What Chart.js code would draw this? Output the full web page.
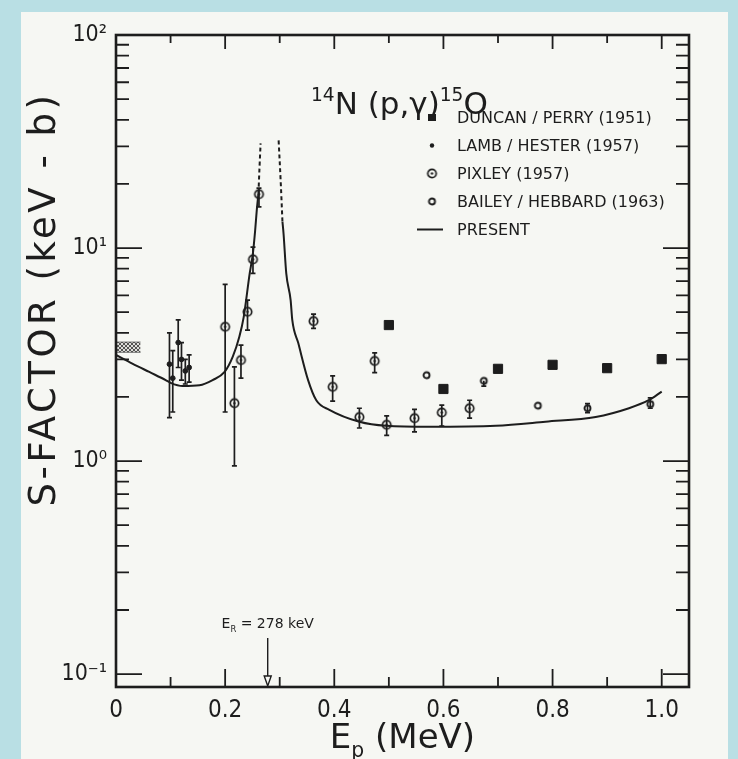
<!DOCTYPE html>
<html>
<head>
<meta charset="utf-8">
<script src="https://cdn.jsdelivr.net/npm/chart.js@4.4.1/dist/chart.umd.min.js"></script>
<style>
  html, body { margin: 0; padding: 0; background: #b9dfe4; }
  canvas { display: block; }
</style>
</head>
<body>
<canvas id="sfactor" width="738" height="759"></canvas>
<script>
// ---- axes ----
const xTickValues = [0, 0.2, 0.4, 0.6, 0.8, 1.0];
const xTickLabels = ['0', '0.2', '0.4', '0.6', '0.8', '1.0'];
const yTickValues = [0.1, 1, 10, 100];
const yTickLabels = ['10\u207B\u00B9', '10\u2070', '10\u00B9', '10\u00B2'];
const xMax = 1.05;
const yMin = 0.087;   // frame sits a little below the 10^-1 mark
const yMax = 100;

// ---- Duncan / Perry (1951) ----
const duncanE = [0.5, 0.6, 0.7, 0.8, 0.9, 1.0];
const duncanS = [4.35, 2.18, 2.71, 2.83, 2.73, 3.01];

// ---- Lamb / Hester (1957) ----
const lambE  = [0.098, 0.104, 0.114, 0.120, 0.127, 0.134];
const lambS  = [2.85, 2.45, 3.60, 3.00, 2.65, 2.75];
const lambLo = [1.60, 1.70, 2.75, 2.40, 2.30, 2.35];
const lambHi = [4.00, 3.30, 4.60, 3.60, 3.00, 3.15];

// ---- Pixley (1957) ----
const pixleyE  = [0.200, 0.217, 0.229, 0.241, 0.251, 0.262, 0.362, 0.397, 0.446, 0.474, 0.496, 0.547, 0.597, 0.648];
const pixleyS  = [4.27, 1.87, 2.98, 5.02, 8.85, 17.9, 4.54, 2.23, 1.61, 2.95, 1.48, 1.59, 1.69, 1.77];
const pixleyLo = [1.70, 0.95, 2.45, 4.12, 7.60, 15.6, 4.20, 1.91, 1.43, 2.60, 1.32, 1.37, 1.46, 1.59];
const pixleyHi = [6.75, 2.77, 3.50, 5.70, 10.1, 19.1, 4.90, 2.51, 1.77, 3.22, 1.63, 1.75, 1.83, 1.93];

// ---- Bailey / Hebbard (1963) ----
const baileyE  = [0.569, 0.674, 0.773, 0.864, 0.979];
const baileyS  = [2.53, 2.38, 1.82, 1.77, 1.85];
const baileyLo = [null, 2.25, null, 1.69, 1.77];
const baileyHi = [null, null, null, 1.86, 1.98];

// ---- low-energy extrapolated band ----
const bandE  = [0, 0.045];
const bandLo = [3.24, 3.24];
const bandHi = [3.62, 3.62];

// ---- present fit: below and above the 278 keV resonance ----
const fitLowE  = [0, 0.030, 0.061, 0.091, 0.100, 0.122, 0.153, 0.177, 0.199, 0.214, 0.226, 0.234, 0.245, 0.251, 0.255, 0.258, 0.261];
const fitLowS  = [3.15, 2.87, 2.62, 2.40, 2.33, 2.25, 2.27, 2.40, 2.62, 3.09, 3.83, 4.74, 7.6, 9.5, 12.1, 15.1, 18.0];
const fitLowDashE = [0.261, 0.263, 0.265];
const fitLowDashS = [18.0, 24.0, 31.0];
const fitHighDashE = [0.298, 0.302, 0.305];
const fitHighDashS = [32.0, 20.0, 13.3];
const fitHighE = [0.305, 0.307, 0.312, 0.320, 0.323, 0.334, 0.352, 0.367, 0.391, 0.446, 0.495, 0.574, 0.696, 0.787, 0.879, 0.940, 0.976, 1.0];
const fitHighS = [13.3, 11.7, 7.6, 5.7, 4.6, 3.58, 2.40, 1.93, 1.74, 1.53, 1.465, 1.45, 1.465, 1.53, 1.61, 1.77, 1.93, 2.12];

const resonanceE = 0.278;
const resonanceLabel = [['E', null], ['R', 'sub'], [' = 278 keV', null]];

const INK = '#1d1d1d';
const PAPER = '#f6f7f3';
const SANS = '"DejaVu Sans", sans-serif';
const NARROW = '"Liberation Sans Narrow", "DejaVu Sans Condensed", sans-serif';

const pts = (xs, ys) => xs.map((x, i) => ({ x: x, y: ys[i] }));

// small marker images
function marker(draw, size) {
  const c = document.createElement('canvas');
  c.width = size; c.height = size;
  const g = c.getContext('2d');
  g.strokeStyle = INK; g.fillStyle = INK;
  draw(g, size / 2);
  return c;
}
const dotCircle = marker((g, m) => {
  g.lineWidth = 1.7;
  g.beginPath(); g.arc(m, m, 4.2, 0, Math.PI * 2); g.stroke();
  g.beginPath(); g.arc(m, m, 1.2, 0, Math.PI * 2); g.fill();
}, 13);
const openCircle = marker((g, m) => {
  g.lineWidth = 1.9;
  g.beginPath(); g.arc(m, m, 3.0, 0, Math.PI * 2); g.stroke();
}, 11);

function hatch() {
  const c = document.createElement('canvas');
  c.width = 4; c.height = 4;
  const g = c.getContext('2d');
  g.fillStyle = '#dededa'; g.fillRect(0, 0, 4, 4);
  g.strokeStyle = '#444'; g.lineWidth = 0.9;
  g.beginPath(); g.moveTo(0, 0); g.lineTo(4, 4); g.moveTo(4, 0); g.lineTo(0, 4); g.stroke();
  return g.createPattern(c, 'repeat');
}

const scatter = (label, xs, ys, style, extra) => Object.assign({
  type: 'scatter', label: label, data: pts(xs, ys),
  pointStyle: style, borderColor: INK, backgroundColor: INK
}, extra);

const fitLine = (xs, ys, dashed) => ({
  type: 'line', label: 'PRESENT', data: pts(xs, ys),
  borderColor: INK, borderWidth: 2, pointRadius: 0,
  borderDash: dashed ? [4, 3] : [], cubicInterpolationMode: 'monotone', fill: false
});

const datasets = [
  { type: 'line', label: 'band', data: pts(bandE, bandLo), borderColor: '#555', borderWidth: 0.8, pointRadius: 0, fill: false },
  { type: 'line', label: 'band', data: pts(bandE, bandHi), borderColor: '#555', borderWidth: 0.8, pointRadius: 0, fill: '-1', backgroundColor: hatch() },
  fitLine(fitLowE, fitLowS, false),
  fitLine(fitLowDashE, fitLowDashS, true),
  fitLine(fitHighDashE, fitHighDashS, true),
  fitLine(fitHighE, fitHighS, false),
  scatter('DUNCAN / PERRY (1951)', duncanE, duncanS, 'rect', { pointRadius: 6.5 }),
  scatter('LAMB / HESTER (1957)', lambE, lambS, 'circle', { pointRadius: 2.4, errLo: lambLo, errHi: lambHi }),
  scatter('PIXLEY (1957)', pixleyE, pixleyS, dotCircle, { errLo: pixleyLo, errHi: pixleyHi }),
  scatter('BAILEY / HEBBARD (1963)', baileyE, baileyS, openCircle, { errLo: baileyLo, errHi: baileyHi })
];

// paper sheet on the blue mat
const paperPlugin = {
  id: 'paper',
  beforeDraw(chart) {
    const c = chart.ctx;
    c.save();
    c.fillStyle = '#b9dfe4';
    c.fillRect(0, 0, chart.width, chart.height);
    c.fillStyle = PAPER;
    c.fillRect(21, 12, 707, 747);
    c.restore();
  }
};

// vertical error bars with small caps
const errorBarPlugin = {
  id: 'errorBars',
  beforeDatasetsDraw(chart) {
    const c = chart.ctx, xs = chart.scales.x, ys = chart.scales.y;
    c.save();
    c.strokeStyle = INK; c.lineWidth = 1.7;
    chart.data.datasets.forEach(ds => {
      if (!ds.errLo) return;
      ds.data.forEach((p, i) => {
        const lo = ds.errLo[i], hi = ds.errHi[i];
        const px = xs.getPixelForValue(p.x);
        const top = ys.getPixelForValue(hi != null ? hi : p.y);
        const bot = ys.getPixelForValue(lo != null ? lo : p.y);
        c.beginPath();
        c.moveTo(px, top); c.lineTo(px, bot);
        if (hi != null) { c.moveTo(px - 2.5, top); c.lineTo(px + 2.5, top); }
        if (lo != null) { c.moveTo(px - 2.5, bot); c.lineTo(px + 2.5, bot); }
        c.stroke();
      });
    });
    c.restore();
  }
};

// frame with inward ticks on all four sides
const framePlugin = {
  id: 'frame',
  afterDatasetsDraw(chart) {
    const c = chart.ctx, a = chart.chartArea, xs = chart.scales.x, ys = chart.scales.y;
    c.save();
    c.strokeStyle = INK;
    c.lineWidth = 2.6;
    c.strokeRect(a.left, a.top, a.right - a.left, a.bottom - a.top);
    c.lineWidth = 1.8;
    c.beginPath();
    for (let k = 0; k <= 10; k++) {
      const px = xs.getPixelForValue(k / 10);
      const major = k % 2 === 0;
      c.moveTo(px, a.bottom); c.lineTo(px, a.bottom - (major ? 18 : 10));
      c.moveTo(px, a.top); c.lineTo(px, a.top + (major ? 14 : 8));
    }
    for (let d = -1; d <= 1; d++) {
      for (let m = 1; m <= 9; m++) {
        const py = ys.getPixelForValue(m * Math.pow(10, d));
        const len = m === 1 ? 26 : 13;
        c.moveTo(a.left, py); c.lineTo(a.left + len, py);
        c.moveTo(a.right, py); c.lineTo(a.right - len, py);
      }
    }
    c.stroke();
    c.restore();
  }
};

// draws a run of [text, 'sup'|'sub'|null] pieces starting at x
function richText(c, x, y, pieces, size) {
  pieces.forEach(([t, kind]) => {
    const s = kind ? size * 0.6 : size;
    c.font = s + 'px ' + SANS;
    const dy = kind === 'sup' ? -size * 0.42 : kind === 'sub' ? size * 0.25 : 0;
    c.fillText(t, x, y + dy);
    x += c.measureText(t).width;
  });
  return x;
}
function richWidth(c, pieces, size) {
  let w = 0;
  pieces.forEach(([t, kind]) => {
    c.font = (kind ? size * 0.6 : size) + 'px ' + SANS;
    w += c.measureText(t).width;
  });
  return w;
}

const legendRows = [
  { label: 'DUNCAN / PERRY (1951)', ds: 6 },
  { label: 'LAMB / HESTER (1957)', ds: 7 },
  { label: 'PIXLEY (1957)', ds: 8 },
  { label: 'BAILEY / HEBBARD (1963)', ds: 9 },
  { label: 'PRESENT', ds: 2 }
];

const textPlugin = {
  id: 'labels',
  afterDraw(chart) {
    const c = chart.ctx, a = chart.chartArea, xs = chart.scales.x;
    c.save();
    c.fillStyle = INK; c.strokeStyle = INK;
    c.textBaseline = 'alphabetic';

    // reaction label
    const title = [['14', 'sup'], ['N (p,\u03B3)', null], ['15', 'sup'], ['O', null]];
    richText(c, 311, 114, title, 31);

    // legend
    c.font = '16px ' + SANS;
    c.textBaseline = 'middle';
    legendRows.forEach((row, i) => {
      const y = 117.5 + i * 28;
      const mx = 432;
      const ds = chart.data.datasets[row.ds];
      if (row.ds === 2) {
        c.lineWidth = 2;
        c.beginPath(); c.moveTo(417, y); c.lineTo(443, y); c.stroke();
      } else if (ds.pointStyle instanceof HTMLCanvasElement) {
        c.drawImage(ds.pointStyle, mx - ds.pointStyle.width / 2, y - ds.pointStyle.height / 2);
      } else if (ds.pointStyle === 'rect') {
        c.fillRect(mx - 4, y - 3.5, 8, 7);
      } else {
        c.beginPath(); c.arc(mx, y, 2.2, 0, Math.PI * 2); c.fill();
      }
      c.fillText(row.label, 457, y + 1);
    });

    // axis titles
    c.textBaseline = 'alphabetic';
    const xt = [['E', null], ['p', 'sub'], [' (MeV)', null]];
    const xw = richWidth(c, xt, 34);
    richText(c, (a.left + a.right) / 2 - xw / 2, 748, xt, 34);

    c.save();
    c.translate(55, 299);
    c.rotate(-Math.PI / 2);
    c.font = '37px ' + SANS;
    c.letterSpacing = '3.5px';
    c.textAlign = 'center';
    c.fillText('S-FACTOR (keV - b)', 0, 0);
    c.restore();

    // resonance marker
    const rx = xs.getPixelForValue(resonanceE);
    const rw = richWidth(c, resonanceLabel, 14);
    richText(c, rx - rw / 2, 628, resonanceLabel, 14);
    c.lineWidth = 1.4;
    c.beginPath(); c.moveTo(rx, 638); c.lineTo(rx, a.bottom - 11); c.stroke();
    c.beginPath();
    c.moveTo(rx - 3.5, a.bottom - 11); c.lineTo(rx + 3.5, a.bottom - 11); c.lineTo(rx, a.bottom - 1); c.closePath();
    c.stroke();
    c.restore();
  }
};

new Chart(document.getElementById('sfactor'), {
  data: { datasets: datasets },
  options: {
    responsive: false,
    animation: false,
    layout: { padding: { top: 35, right: 49, left: 0, bottom: 0 } },
    plugins: { legend: { display: false }, tooltip: { enabled: false } },
    scales: {
      x: {
        type: 'linear', min: 0, max: xMax,
        grid: { display: false, drawTicks: false }, border: { display: false },
        afterFit: s => { s.height = 72; },
        afterBuildTicks: s => { s.ticks = xTickValues.map(v => ({ value: v })); },
        ticks: {
          color: INK, padding: 9, maxRotation: 0,
          font: { family: NARROW, size: 24 },
          callback: v => xTickLabels[xTickValues.indexOf(v)]
        }
      },
      y: {
        type: 'logarithmic', min: yMin, max: yMax,
        grid: { display: false, drawTicks: false }, border: { display: false },
        afterFit: s => { s.width = 116; },
        afterBuildTicks: s => { s.ticks = yTickValues.map(v => ({ value: v })); },
        ticks: {
          color: INK, padding: 9,
          font: { family: NARROW, size: 23 },
          callback: v => yTickLabels[yTickValues.indexOf(v)]
        }
      }
    }
  },
  plugins: [paperPlugin, errorBarPlugin, framePlugin, textPlugin]
});
</script>
</body>
</html>
